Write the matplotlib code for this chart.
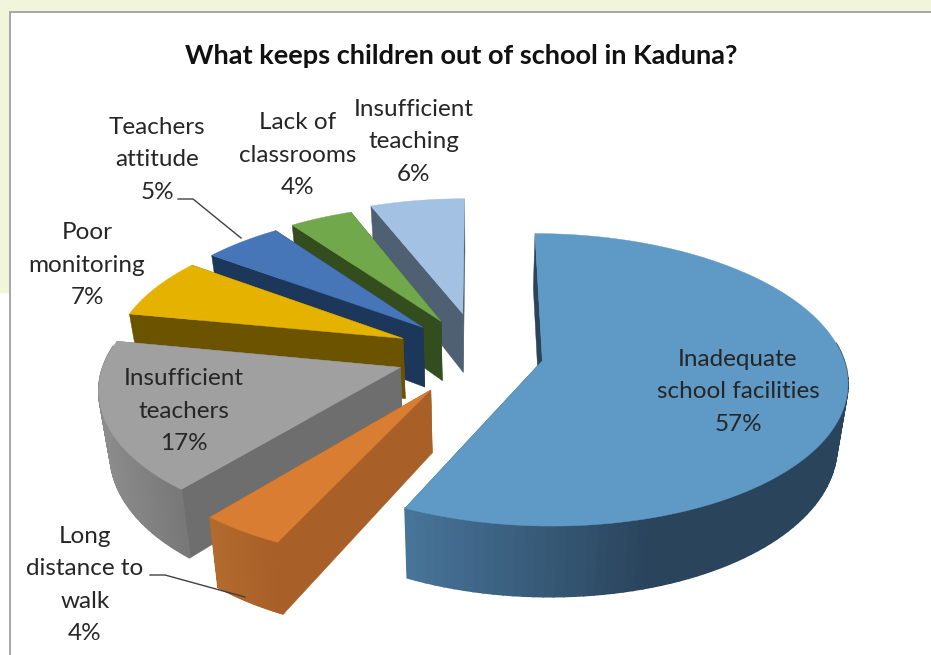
import numpy as np
import matplotlib
matplotlib.use('Agg')
import matplotlib.pyplot as plt
from matplotlib.patches import Rectangle

plt.rcParams['font.family'] = ['Lato', 'DejaVu Sans']

labels = ['Inadequate\nschool facilities', 'Long\ndistance to\nwalk', 'Insufficient\nteachers',
          'Poor\nmonitoring', 'Teachers\nattitude', 'Lack of\nclassrooms', 'Insufficient\nteaching']
values = [57, 4, 17, 7, 5, 4, 6]
explode = [0.215, 0.29, 0.275, 0.28, 0.27, 0.27, 0.30]
radius = [1, 0.98, 0.98, 0.97, 0.975, 0.98, 0.98]
top_colors = ['#5f99c6', '#d87d32', '#a0a0a0', '#e6b200', '#4675b8', '#70a84b', '#a3c1e2']
face_colors = ['#2a445c', '#a85f28', '#6e6e6e', '#6c5300', '#1c375a', '#344d1e', '#4e6071']
rim_left = ['#48769b', '#b26a2d', '#8c8c8c', '#6c5300', '#1c375a', '#344d1e', '#4e6071']
rim_right = ['#2a445c', '#a85f28', '#787878', '#6c5300', '#1c375a', '#344d1e', '#4e6071']
label_pos = [(738, 392), (85, 585), (184, 411), (87, 265), (157, 160), (298, 155), (414, 142)]

W, H = 931, 655
CX, CY = 479, 354   # pie centre in pixels
A, B = 300, 142     # disc semi axes
P = 0.13            # perspective
DEPTH = 61
SHRINK = 0.03


def project(x, y):
    s = 1 / (1 + P * y)
    return CX + A * x * s, CY - B * y * s, s


def extrude(px, py, s):
    return CX + (px - CX) * (1 - SHRINK), py + DEPTH * s


fig = plt.figure(figsize=(W / 100, H / 100), dpi=100, facecolor='white')
ax = fig.add_axes([0, 0, 1, 1])
ax.set_xlim(0, W)
ax.set_ylim(H, 0)
ax.axis('off')

# page background and chart frame
ax.add_patch(Rectangle((0, 0), W, 293, fc='#f1f5dc', ec='none', zorder=0))
ax.add_patch(Rectangle((9.5, 12), W, H, fc='white', ec='#a6a6a6', lw=1.4, zorder=1))

starts = np.cumsum([0] + values[:-1]) / sum(values) * 360
ends = np.cumsum(values) / sum(values) * 360

# back slices first, the big one last
order = [6, 5, 4, 3, 2, 1, 0]
z = 2
for i in order:
    th = np.radians(np.linspace(starts[i], ends[i], 120))
    mid = np.radians((starts[i] + ends[i]) / 2)
    ox, oy = explode[i] * np.sin(mid), explode[i] * np.cos(mid)

    ax_, ay_, as_ = project(ox, oy)
    rx, ry, rs = project(ox + radius[i] * np.sin(th), oy + radius[i] * np.cos(th))
    bx_, by_ = extrude(ax_, ay_, as_)
    brx, bry = extrude(rx, ry, rs)

    # radial faces
    for k in (0, -1):
        ax.fill([ax_, rx[k], brx[k], bx_], [ay_, ry[k], bry[k], by_],
                color=face_colors[i], lw=0.3, zorder=z)
    # outer rim, shaded along x
    c0 = np.array(matplotlib.colors.to_rgb(rim_left[i]))
    c1 = np.array(matplotlib.colors.to_rgb(rim_right[i]))
    for j in range(len(th) - 1):
        if np.cos(th[j]) > 0.15:
            continue
        t = np.clip((rx[j] - rx.min()) / max(min(rx.max() - rx.min(), 250), 1), 0, 1)
        ax.fill([rx[j], rx[j + 1], brx[j + 1], brx[j]], [ry[j], ry[j + 1], bry[j + 1], bry[j]],
                color=c0 + (c1 - c0) * t, lw=1.2, zorder=z)
    # top
    ax.fill(np.r_[ax_, rx], np.r_[ay_, ry], color=top_colors[i], lw=0.3, zorder=z + 0.5)
    z += 1

# labels
for i in range(len(values)):
    ax.text(label_pos[i][0], label_pos[i][1], labels[i] + '\n%d%%' % values[i], ha='center', va='center',
            fontsize=17.5, color='#262626', linespacing=1.66, zorder=20)

ax.text(461, 56, 'What keeps children out of school in Kaduna?', ha='center', va='center',
        fontsize=19.5, fontweight='bold', color='#111111', zorder=20)

# leader lines
ax.plot([178, 193, 241], [199, 199, 238], color='#404040', lw=1, zorder=20)
ax.plot([150, 165, 245], [575, 575, 597], color='#404040', lw=1, zorder=20)

fig.savefig('out.png', dpi=100)
